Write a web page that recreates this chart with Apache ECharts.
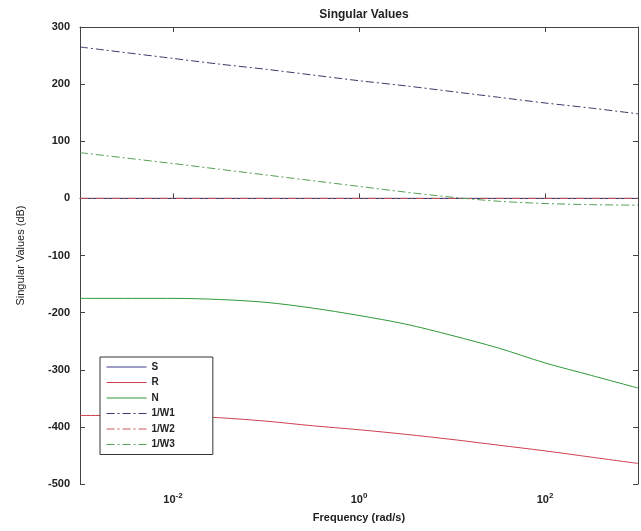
<!DOCTYPE html>
<html><head><meta charset="utf-8">
<script src="https://cdn.jsdelivr.net/npm/echarts@6/dist/echarts.min.js"></script>
<style>html,body{margin:0;padding:0;background:#fff}#c{width:641px;height:531px}</style>
</head><body><div id="c"></div>
<script>
const freq = [0.001, 0.01, 0.0316, 0.1, 0.316, 1, 3.16, 10, 31.6, 100, 316, 1000];
const S  = [0, 0, 0, 0, 0, 0, 0, 0, 0, 0, 0, 0];
const R  = [-380, -381, -384, -390, -398, -405, -413, -422, -432, -442, -453, -464];
const N  = [-175, -175, -177, -182, -192, -205, -220, -240, -262, -288, -310, -332];
const W1 = [265, 245, 235, 226, 216, 206, 197, 187, 177, 167, 158, 148];
const W2 = [0, 0, 0, 0, 0, 0, 0, 0, 0, 0, 0, 0];
const W3 = [80, 61, 51, 41, 31, 21, 11, 2, -5, -9, -11, -12];
const names = ['S', 'R', 'N', '1/W1', '1/W2', '1/W3'];
const xTicks = [0.01, 1, 100];
const yMin = -500, yMax = 300, yStep = 100;

const pair = arr => freq.map((f, i) => [f, arr[i]]);
const dashDot = [8, 3, 2, 3];
const colors = ['#3a3a8a', '#d04050', '#2f9a3a', '#3a3a6a', '#cc5555', '#55a055'];
const data = [S, R, N, W1, W2, W3];
const font = 'Liberation Sans, Arial, Helvetica, sans-serif';

const series = data.map((d, i) => ({
  name: names[i], type: 'line', data: pair(d), symbol: 'none', smooth: 0.3,
  xAxisIndex: 0, yAxisIndex: 0,
  lineStyle: { width: 1, color: colors[i], type: i < 3 ? 'solid' : dashDot },
  itemStyle: { color: colors[i] }, z: 3
}));

const expLabel = v => {
  const e = Math.round(Math.log10(v));
  return '{b|10}{s|' + e + '}';
};
const xRich = { b: { fontFamily: font, fontWeight: 'bold', fontSize: 11, color: '#222' },
                s: { fontFamily: font, fontWeight: 'bold', fontSize: 8, color: '#222', verticalAlign: 'bottom', padding: [0, 0, 8, 0] } };

const chart = echarts.init(document.getElementById('c'), null, { renderer: 'canvas' });
chart.setOption({
  animation: false,
  backgroundColor: '#fff',
  title: { text: 'Singular Values', left: 359, top: 4, textAlign: 'center',
    textStyle: { fontFamily: font, fontWeight: 'bold', fontSize: 12, color: '#222' } },
  grid: { left: 80, right: 3, top: 27, bottom: 47, containLabel: false },
  legend: {
    orient: 'vertical', left: 100, top: 357, data: names,
    backgroundColor: '#fff', borderColor: '#333', borderWidth: 1,
    padding: [5, 38, 5, 6], itemGap: 5.5, itemWidth: 40, itemHeight: 10,
    itemStyle: { opacity: 0 }, lineStyle: { width: 1 },
    textStyle: { fontFamily: font, fontWeight: 'bold', fontSize: 10, color: '#222' }
  },
  xAxis: [
    { type: 'log', logBase: 10, min: 0.001, max: 1000, position: 'bottom',
      name: 'Frequency (rad/s)', nameLocation: 'middle', nameGap: 28,
      nameTextStyle: { fontFamily: font, fontWeight: 'bold', fontSize: 11, color: '#222' },
      axisLine: { lineStyle: { color: '#444' } },
      axisTick: { inside: true, length: 5, customValues: xTicks, lineStyle: { color: '#444' } },
      minorTick: { show: false }, splitLine: { show: false },
      axisLabel: { customValues: xTicks, formatter: expLabel, rich: xRich, margin: 8 } },
    { type: 'log', logBase: 10, min: 0.001, max: 1000, position: 'top',
      axisLine: { onZero: false, lineStyle: { color: '#444' } },
      axisTick: { inside: true, length: 5, customValues: xTicks, lineStyle: { color: '#444' } },
      axisLabel: { show: false }, splitLine: { show: false } }
  ],
  yAxis: [
    { type: 'value', min: yMin, max: yMax, interval: yStep,
      name: 'Singular Values (dB)', nameLocation: 'middle', nameGap: 54,
      nameTextStyle: { fontFamily: font, fontSize: 11, color: '#222' },
      axisLine: { show: true, onZero: false, lineStyle: { color: '#444' } },
      axisTick: { show: true, inside: true, length: 5, lineStyle: { color: '#444' } },
      axisLabel: { fontFamily: font, fontWeight: 'bold', fontSize: 11, color: '#222', margin: 10 },
      splitLine: { show: false } },
    { type: 'value', min: yMin, max: yMax, interval: yStep, position: 'right',
      axisLine: { show: true, onZero: false, lineStyle: { color: '#444' } },
      axisTick: { show: true, inside: true, length: 5, lineStyle: { color: '#444' } },
      axisLabel: { show: false }, splitLine: { show: false } }
  ],
  series: series
});
</script></body></html>
